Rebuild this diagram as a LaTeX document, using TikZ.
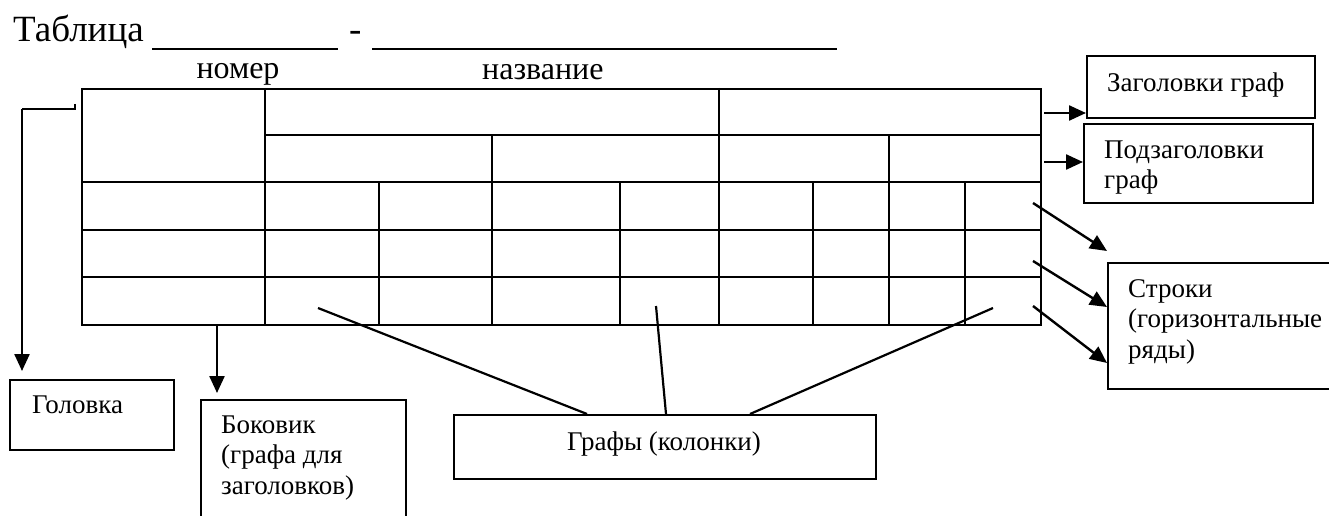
\documentclass[tikz,border=0pt]{standalone}
\usepackage{fontspec}
\setmainfont{Liberation Serif}
\usetikzlibrary{arrows.meta}
\begin{document}
\begin{tikzpicture}[x=1pt,y=-1pt,
  tbl/.style={line width=1.6pt},
  lbox/.style={draw,line width=1.6pt,inner sep=0pt,anchor=north west},
  arr/.style={line width=2.4pt,-{Triangle[length=17pt,width=15pt]}},
  ln/.style={line width=2.2pt},
  txt/.style={font=\fontsize{27}{30.5}\selectfont,align=left,anchor=north west,inner sep=0pt},
  big/.style={font=\fontsize{37}{40}\selectfont,anchor=base west,inner sep=0pt},
  mid/.style={font=\fontsize{32}{34}\selectfont,anchor=base,inner sep=0pt}]
\useasboundingbox (0,0) rectangle (1329,516);
% title
\node[big] (title) at (13,42) {Таблица};
\node[big] (dash) at (349,42) {-};
\coordinate (u1a) at (152,49); \coordinate (u1b) at (338,49);
\coordinate (u2a) at (372,49); \coordinate (u2b) at (837,49);
\draw[line width=1.4pt] (u1a) -- (u1b);
\draw[line width=1.4pt] (u2a) -- (u2b);
\node[mid] (nomer) at (238,79) {номер};
\node[mid,anchor=base west] (nazv) at (482,80) {название};
% table
\node[draw,tbl,inner sep=0pt,anchor=north west,minimum width=959pt,minimum height=236pt] (tab) at (81,88) {};
\draw[tbl] (265,135) -- (1040,135);
\foreach \y in {182,230,277} \draw[tbl] (81,\y) -- (1040,\y);
\foreach \x in {265,719} \draw[tbl] (\x,88) -- (\x,324);
\foreach \x in {492,889} \draw[tbl] (\x,135) -- (\x,324);
\foreach \x in {379,620,813,965} \draw[tbl] (\x,182) -- (\x,324);
% boxes (text: baseline of first line = y + 21.35)
\node[lbox,minimum width=228pt,minimum height=62pt] (zag) at (1086,55) {};
\node[txt] (zagt) at (1107,69.6) {\strut Заголовки граф};
\node[lbox,minimum width=229pt,minimum height=79pt] (pod) at (1083,123) {};
\node[txt] (podt) at (1104,136.6) {\strut Подзаголовки\\граф};
\node[lbox,minimum width=240pt,minimum height=126pt] (str) at (1107,262) {};
\node[txt] (strt) at (1128,275.6) {\strut Строки\\(горизонтальные\\ряды)};
\node[lbox,minimum width=164pt,minimum height=70pt] (gol) at (9,379) {};
\node[txt] (golt) at (32,391.6) {\strut Головка};
\node[lbox,minimum width=205pt,minimum height=140pt] (bok) at (200,399) {};
\node[txt] (bokt) at (221,411.6) {\strut Боковик\\(графа для\\заголовков)};
\node[lbox,minimum width=422pt,minimum height=64pt] (gr) at (453,414) {};
\node[txt,anchor=base,font=\fontsize{27}{30.5}\selectfont] (grt) at (664,450) {Графы (колонки)};
% connectors
\coordinate (g0) at (75,104); \coordinate (g1) at (75,109); \coordinate (g2) at (22,109); \coordinate (g3) at (22,371);
\draw[ln] (g0) -- (g1) -- (g2);
\draw[arr] (g2) -- (g3);
\coordinate (b0) at (217,324); \coordinate (b1) at (217,393);
\draw[arr] (b0) -- (b1);
\coordinate (z0) at (1044,113); \draw[arr] (z0) -- (zag.west |- z0);
\coordinate (p0) at (1044,162); \draw[arr] (p0) -- (pod.west |- p0);
\coordinate (s0) at (1033,203); \coordinate (s0e) at (1107,251); \draw[arr] (s0) -- (s0e);
\coordinate (s1) at (1033,261); \coordinate (s1e) at (1107,307); \draw[arr] (s1) -- (s1e);
\coordinate (s2) at (1033,306); \coordinate (s2e) at (1107,363); \draw[arr] (s2) -- (s2e);
\coordinate (c0) at (318,308); \coordinate (c0e) at (587,414); \draw[ln] (c0) -- (c0e);
\coordinate (c1) at (656,306); \coordinate (c1e) at (666,414); \draw[ln] (c1) -- (c1e);
\coordinate (c2) at (993,308); \coordinate (c2e) at (750,414); \draw[ln] (c2) -- (c2e);
\end{tikzpicture}
\end{document}
